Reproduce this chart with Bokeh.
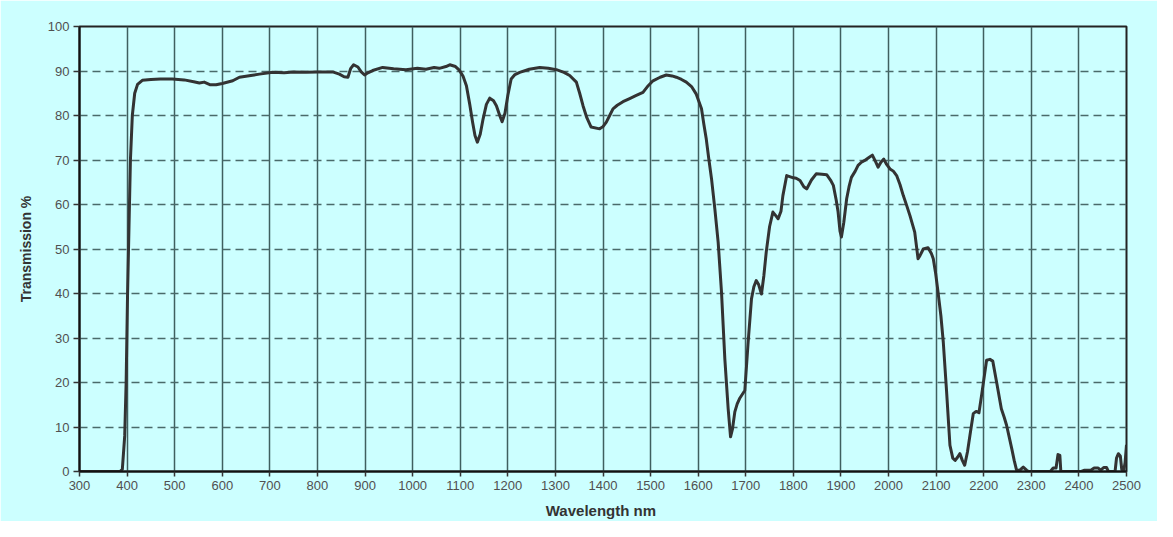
from bokeh.plotting import figure
from bokeh.models import FixedTicker, Range1d
from bokeh.embed import file_html
from bokeh.resources import INLINE

# wavelength (nm) and transmission (%)
wavelength = [300, 385, 390, 395, 398, 401, 404, 407, 411, 416, 422, 432, 450, 470, 495, 520, 540, 552, 562, 575,
              587, 600, 622, 636, 660, 678, 706, 730, 750, 776, 800, 832, 846, 856, 864, 870, 876, 885, 892, 899,
              906, 916, 937, 960, 986, 1010, 1028, 1045, 1056, 1070, 1078, 1090, 1098, 1106, 1113, 1120, 1126, 1131, 1136, 1142,
              1148, 1155, 1162, 1170, 1176, 1183, 1188, 1194, 1200, 1207, 1215, 1225, 1245, 1267, 1285, 1302, 1318, 1330, 1344, 1351,
              1358, 1366, 1375, 1393, 1400, 1407, 1414, 1421, 1430, 1442, 1456, 1470, 1484, 1495, 1505, 1520, 1533, 1545, 1554, 1565,
              1575, 1586, 1596, 1607, 1612, 1617, 1622, 1628, 1635, 1642, 1649, 1656, 1663, 1668, 1672, 1677, 1682, 1687, 1698, 1705,
              1712, 1717, 1722, 1727, 1733, 1738, 1743, 1750, 1757, 1763, 1768, 1774, 1778, 1786, 1800, 1806, 1814, 1822, 1828, 1838,
              1848, 1860, 1870, 1878, 1884, 1890, 1894, 1898, 1901, 1906, 1912, 1917, 1922, 1930, 1936, 1943, 1950, 1958, 1966, 1972,
              1978, 1984, 1990, 1996, 2003, 2010, 2017, 2024, 2031, 2038, 2045, 2055, 2062, 2066, 2073, 2083, 2090, 2094, 2099, 2104,
              2110, 2115, 2122, 2129, 2135, 2140, 2145, 2150, 2155, 2160, 2166, 2171, 2178, 2184, 2190, 2196, 2202, 2206, 2213, 2219,
              2227, 2237, 2243, 2248, 2253, 2259, 2264, 2269, 2276, 2283, 2290, 2294, 2340, 2346, 2352, 2356, 2360, 2362, 2405, 2412,
              2425, 2432, 2440, 2446, 2452, 2458, 2462, 2476, 2479, 2483, 2487, 2490, 2494, 2497, 2500]
transmission = [0, 0, 0.5, 8, 20, 40, 55, 70, 80, 85, 87, 87.9, 88.1, 88.2, 88.2, 88.0, 87.6, 87.3, 87.5, 86.9,
                86.9, 87.2, 87.8, 88.6, 89.0, 89.3, 89.7, 89.6, 89.8, 89.7, 89.8, 89.8, 89.3, 88.7, 88.6, 90.6, 91.4, 90.9, 89.8, 89.1,
                89.6, 90.1, 90.8, 90.5, 90.3, 90.6, 90.4, 90.8, 90.6, 91.0, 91.4, 91.0, 90.2, 88.8, 86.7, 82.5, 78.5, 75.5, 74.0, 75.8,
                79.2, 82.5, 83.9, 83.3, 82.2, 80.0, 78.6, 80.5, 84.5, 88.2, 89.2, 89.7, 90.4, 90.8, 90.6, 90.3, 89.7, 89.0, 87.5, 85.0,
                82.2, 79.5, 77.4, 77.0, 77.5, 78.5, 80.0, 81.5, 82.3, 83.1, 83.8, 84.5, 85.2, 86.7, 87.8, 88.6, 89.1, 88.9, 88.6, 88.1,
                87.5, 86.5, 84.8, 81.5, 78.0, 74.7, 70.5, 65.8, 59.0, 51.5, 40.3, 25.3, 14.1, 7.8, 9.5, 13.4, 15.2, 16.4, 18.2, 29.1,
                38.8, 41.5, 42.9, 42.0, 39.9, 44.0, 49.3, 55.0, 58.3, 57.5, 56.8, 58.5, 62.0, 66.5, 66.0, 65.9, 65.4, 64.0, 63.5, 65.5,
                66.9, 66.8, 66.7, 65.5, 64.3, 61.0, 58.3, 54.0, 52.7, 56.0, 61.3, 64.0, 66.1, 67.5, 68.8, 69.5, 69.9, 70.5, 71.1, 69.8,
                68.4, 69.5, 70.2, 69.0, 68.0, 67.5, 66.5, 64.5, 62.0, 59.8, 57.5, 53.8, 47.8, 48.5, 50.0, 50.3, 49.0, 47.8, 44.5, 40.3,
                35.0, 29.1, 17.9, 5.9, 3.0, 2.5, 3.2, 4.0, 2.5, 1.4, 4.5, 8.1, 13.0, 13.5, 13.2, 17.5, 22.0, 25.0, 25.2, 24.8,
                20.1, 14.1, 12.2, 10.4, 8.0, 5.1, 2.5, 0.3, 0.3, 1.0, 0.3, 0, 0, 0.8, 0.8, 3.8, 3.6, 0, 0, 0.3,
                0.3, 0.8, 0.8, 0.3, 0.9, 0.9, 0, 0, 3.0, 4.0, 3.5, 0.5, 0, 2, 6]

x_ticks = list(range(300, 2501, 100))
y_ticks = list(range(0, 101, 10))

BG = "#CCFFFF"
FONT = "Liberation Sans"

p = figure(width=1157, height=521, output_backend="svg", toolbar_location=None,
           x_range=Range1d(300, 2500), y_range=Range1d(0, 100),
           min_border_left=79, min_border_right=31, min_border_top=26, min_border_bottom=49)
p.background_fill_color = BG
p.border_fill_color = BG
p.outline_line_color = "#222222"
p.outline_line_width = 2

# grids
p.xgrid.ticker = FixedTicker(ticks=x_ticks)
p.ygrid.ticker = FixedTicker(ticks=y_ticks)
p.xgrid.grid_line_color = "#3f5f5f"
p.xgrid.grid_line_width = 1.5
p.ygrid.grid_line_color = "#4a6a6a"
p.ygrid.grid_line_width = 1.5
p.ygrid.grid_line_dash = "8 5"

# axes
for ax, ticks in ((p.xaxis[0], x_ticks), (p.yaxis[0], y_ticks)):
    ax.ticker = FixedTicker(ticks=ticks)
    ax.axis_line_color = "#111111"
    ax.axis_line_width = 2
    ax.major_tick_line_color = "#333333"
    ax.major_tick_line_width = 1.5
    ax.major_tick_in = 0
    ax.major_tick_out = 5
    ax.minor_tick_line_color = None
    ax.major_label_text_font = FONT
    ax.major_label_text_font_size = "13px"
    ax.major_label_text_color = "#505050"
    ax.axis_label_text_font = FONT
    ax.axis_label_text_font_style = "bold"
    ax.axis_label_text_color = "#333333"

p.xaxis.axis_label = "Wavelength  nm"
p.xaxis.axis_label_text_font_size = "15px"
p.xaxis.major_label_standoff = 4
p.xaxis.axis_label_standoff = 9
p.yaxis.axis_label = "Transmission %"
p.yaxis.axis_label_text_font_size = "14px"
p.yaxis.major_tick_out = 6
p.yaxis.major_label_standoff = 4
p.yaxis.axis_label_standoff = 11

p.line(wavelength, transmission, line_color="#333333", line_width=3, line_join="round")

open("out.html", "w").write(file_html(p, INLINE))
